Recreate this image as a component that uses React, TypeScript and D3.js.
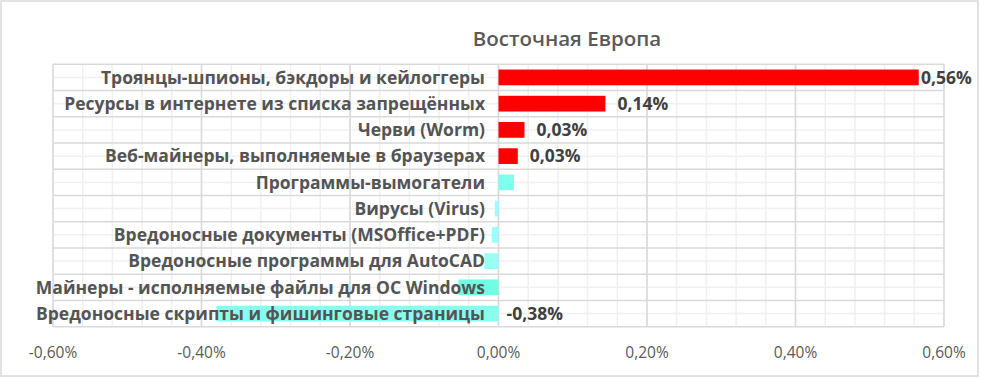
import React from "react";
import * as d3 from "d3";

const categories = [
  "Троянцы-шпионы, бэкдоры и кейлоггеры",
  "Ресурсы в интернете из списка запрещённых",
  "Черви (Worm)",
  "Веб-майнеры, выполняемые в браузерах",
  "Программы-вымогатели",
  "Вирусы (Virus)",
  "Вредоносные документы (MSOffice+PDF)",
  "Вредоносные программы для AutoCAD",
  "Майнеры - исполняемые файлы для ОС Windows",
  "Вредоносные скрипты и фишинговые страницы",
];
const values = [0.566, 0.144, 0.035, 0.026, 0.021, -0.005, -0.009, -0.019, -0.054, -0.38];
const barColors = ["#FF0000", "#FF0000", "#FF0000", "#FF0000", "#80FFEC", "#99FFFF", "#99FFFF", "#99FFF4", "#70FFE2", "#88FFEE"];
const dataLabels = ["0,56%", "0,14%", "0,03%", "0,03%", "", "", "", "", "", "-0,38%"];
const tickValues = [-0.6, -0.4, -0.2, 0, 0.2, 0.4, 0.6];
const minorTickValues = d3.range(-0.6, 0.6001, 0.04);
const title = "Восточная Европа";

const W = 981;
const H = 378;
const plot = { left: 53, right: 944, top: 64.3, bottom: 326.7 };

export default function App() {
  const x = d3.scaleLinear().domain([-0.6, 0.6]).range([plot.left, plot.right]);
  const y = d3.scaleBand().domain(categories).range([plot.top, plot.bottom]).paddingInner(0).paddingOuter(0);
  const bw = y.bandwidth();
  const barH = bw * 0.6;
  const fmt = (v: number) => (v.toFixed(2).replace(".", ",") + "%");
  const labelFont = "'Open Sans', 'DejaVu Sans', sans-serif";

  return (
    <div style={{ position: "absolute", left: 0, top: 0 }}>
      <svg width={W} height={H} style={{ display: "block" }}>
        <rect x={0} y={0} width={W} height={H} fill="#fff" />
        <rect x={1} y={1} width={977} height={375} fill="none" stroke="#d9d9d9" strokeWidth={1.5} />
        <text x={567} y={46} textAnchor="middle" fontFamily={labelFont} fontWeight={600} fontSize={20.5} fill="#595959">{title}</text>
        {/* minor grid */}
        {minorTickValues.map((t, i) => (
          <line key={"mv" + i} x1={x(t)} x2={x(t)} y1={plot.top} y2={plot.bottom} stroke="#f0f0f0" strokeWidth={1.5} />
        ))}
        {categories.map((c, i) => (
          <line key={"mh" + i} x1={plot.left} x2={plot.right} y1={(y(c) as number) + bw / 2} y2={(y(c) as number) + bw / 2} stroke="#f0f0f0" strokeWidth={1.5} />
        ))}
        {/* major grid */}
        {tickValues.map((t, i) => (
          <line key={"v" + i} x1={x(t)} x2={x(t)} y1={plot.top} y2={plot.bottom} stroke="#d9d9d9" strokeWidth={1.5} />
        ))}
        {categories.concat([""]).map((c, i) => {
          const yy = plot.top + i * bw;
          return <line key={"h" + i} x1={plot.left} x2={plot.right} y1={yy} y2={yy} stroke="#d9d9d9" strokeWidth={1.5} />;
        })}
        {/* bars */}
        {categories.map((c, i) => {
          const v = values[i];
          const x0 = x(Math.min(0, v));
          const x1 = x(Math.max(0, v));
          return (
            <rect key={"b" + i} x={x0} y={(y(c) as number) + (bw - barH) / 2} width={x1 - x0} height={barH} fill={barColors[i]} />
          );
        })}
        {/* category labels */}
        {categories.map((c, i) => (
          <text key={"c" + i} x={485} y={(y(c) as number) + bw / 2} dy="0.36em" textAnchor="end" fontFamily={labelFont} fontWeight={700} fontSize={17.5} fill="#545454">{c}</text>
        ))}
        {/* data labels */}
        {categories.map((c, i) => {
          if (!dataLabels[i]) return null;
          const end = x(Math.max(0, values[i])) + (values[i] < 0 ? 8 : 12);
          const lx = Math.min(end, 921);
          return (
            <text key={"d" + i} x={lx} y={(y(c) as number) + bw / 2} dy="0.36em" fontFamily={labelFont} fontWeight={700} fontSize={17.5} fill="#404040">{dataLabels[i]}</text>
          );
        })}
        {/* tick labels */}
        {tickValues.map((t, i) => (
          <text key={"t" + i} x={x(t)} y={358} textAnchor="middle" fontFamily={labelFont} fontSize={15.5} fill="#595959">{fmt(t)}</text>
        ))}
      </svg>
    </div>
  );
}
